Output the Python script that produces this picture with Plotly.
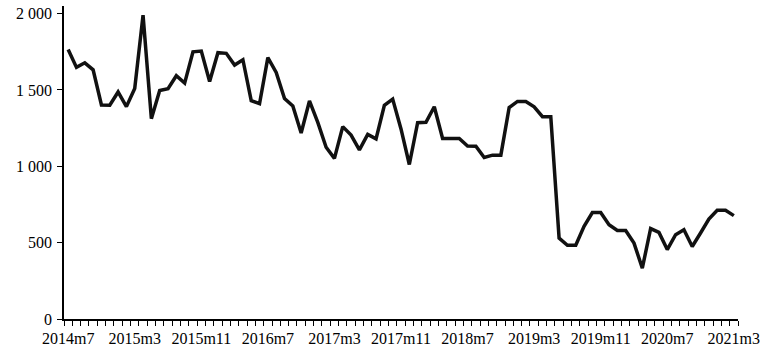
import plotly.graph_objects as go

# Monthly series 2014m7 .. 2021m3
values = [
    1765, 1648, 1678, 1632, 1402, 1400, 1487, 1391, 1510, 1990,
    1312, 1497, 1508, 1593, 1545, 1750, 1755, 1555, 1744, 1740,
    1663, 1698, 1430, 1410, 1712, 1615, 1444, 1395, 1218, 1428,
    1288, 1125, 1052, 1260, 1205, 1108, 1209, 1180, 1400, 1440,
    1245, 1012, 1286, 1288, 1390, 1182, 1182, 1182, 1133, 1132,
    1058, 1073, 1073, 1385, 1425, 1425, 1390, 1325, 1325, 530,
    483, 483, 607, 697, 697, 618, 580, 580, 497, 333,
    592, 567, 455, 552, 585, 475, 563, 655, 712, 712, 677,
]

start_year, start_month = 2014, 7
months = []
y, m = start_year, start_month
for _ in values:
    months.append(f"{y}m{m}")
    m += 1
    if m > 12:
        m = 1
        y += 1

x_idx = list(range(len(values)))
label_idx = x_idx[::8]
label_text = [months[i] for i in label_idx]

y_ticks = [0, 500, 1000, 1500, 2000]

fig = go.Figure()
fig.add_trace(go.Scatter(
    x=x_idx, y=values, mode="lines",
    line=dict(color="#111111", width=3.5),
    hoverinfo="skip",
))

font = dict(family="Liberation Serif", size=16, color="black")

fig.update_layout(
    width=774, height=349,
    margin=dict(l=64, r=36, t=6, b=30, autoexpand=False),
    paper_bgcolor="white", plot_bgcolor="white",
    showlegend=False,
    separators=". ",
    font=font,
)
fig.update_xaxes(
    automargin=False,
    range=[-0.5, len(values) - 0.5],
    tickmode="array", tickvals=label_idx, ticktext=label_text,
    ticks="outside", ticklen=4, tickcolor="rgba(0,0,0,0)",
    showline=True, linecolor="black", linewidth=1.5,
    showgrid=False, zeroline=False,
    minor=dict(ticks="outside", ticklen=5, tickwidth=1, tickcolor="black",
               tickmode="linear", tick0=-0.5, dtick=1, showgrid=False),
    tickfont=font,
)
fig.update_yaxes(
    automargin=False,
    range=[0, 2050],
    tickmode="array", tickvals=y_ticks, tickformat=",d",
    ticks="outside", ticklen=5, tickwidth=1, tickcolor="black",
    showline=True, linecolor="black", linewidth=1.5,
    showgrid=False, zeroline=False,
    ticklabelstandoff=2,
    tickfont=font,
)

fig.write_html(
    "out.html",
    config={"displayModeBar": False},
    post_script="document.body.style.margin='0';document.body.style.padding='0';",
)
